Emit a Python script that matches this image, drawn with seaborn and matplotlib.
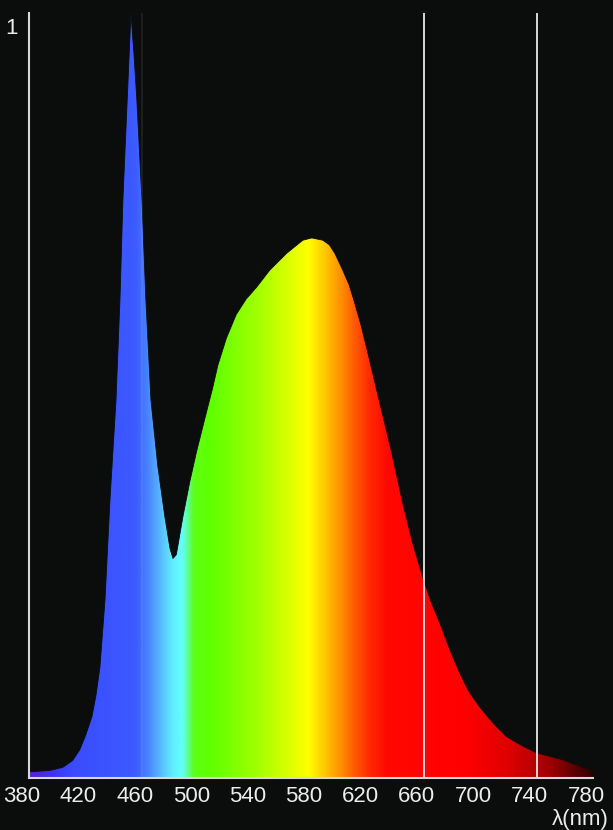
import numpy as np
import pandas as pd
import seaborn as sns
import matplotlib
matplotlib.use('Agg')
import matplotlib.pyplot as plt
import matplotlib.transforms as mtransforms
from matplotlib import font_manager
from matplotlib.colors import LinearSegmentedColormap

# spectrum (relative intensity, peak = 1)
wavelength = [380, 395, 404, 411, 416, 420, 424.6, 427.5, 430.3, 433.9, 437.4, 441.7, 444.5,
              446.6, 449.5, 452.3, 454.5, 456.5, 460.1, 462.9, 466.5, 471.4, 476.4, 480,
              482.1, 484.5, 489.1, 494, 499, 505, 510, 514, 520, 527, 534, 541.6, 550.8,
              562.8, 574.2, 580.6, 588.4, 593, 596.9, 602.5, 607, 611.0, 615.5, 620.3,
              628.8, 637.3, 645.1, 652, 659.2, 665, 671.3, 678, 685.5, 692, 699.6, 710,
              718.8, 730, 740.0, 750, 758.5, 770, 780]
intensity = [0.008, 0.010, 0.014, 0.023, 0.037, 0.055, 0.080, 0.108, 0.145, 0.233, 0.363,
             0.494, 0.625, 0.756, 0.880, 1.0, 0.945, 0.886, 0.756, 0.625, 0.494, 0.407,
             0.341, 0.300, 0.287, 0.292, 0.341, 0.387, 0.428, 0.472, 0.508, 0.540, 0.575,
             0.606, 0.626, 0.642, 0.664, 0.686, 0.703, 0.706, 0.703, 0.697, 0.686, 0.664,
             0.645, 0.621, 0.592, 0.556, 0.490, 0.425, 0.359, 0.308, 0.263, 0.231, 0.203,
             0.170, 0.137, 0.113, 0.093, 0.070, 0.054, 0.042, 0.033, 0.028, 0.024, 0.016,
             0.010]

# colour of each wavelength as seen in the fill
stop_nm = [380, 395, 410, 455, 465, 475, 482, 488, 492, 497, 510, 545, 570, 578, 588,
           598, 610, 622, 635, 690, 720, 750, 780]
stop_colors = ['#5a1fd8', '#4030f0', '#3a4cff', '#3c5aff', '#4a8aff', '#5cc8ff', '#60f0ff',
               '#60ffff', '#60ffa0', '#5cff10', '#60ff00', '#a8ff00', '#eaff00', '#ffff00',
               '#ffd000', '#ffa000', '#ff6000', '#ff2800', '#ff0800', '#ff0000', '#e00000',
               '#a00000', '#300000']

tick_nm = [380, 420, 460, 500, 540, 580, 620, 660, 700, 740, 780]
guide_nm = [660, 740]
faint_nm = [460]

bg = '#0b0c0c'
sns.set_style('dark', {'axes.facecolor': bg, 'figure.facecolor': bg})

# narrow face if there is one
have = {f.name for f in font_manager.fontManager.ttflist}
face = 'DejaVu Sans'
for cand in ['Liberation Sans Narrow', 'DejaVu Sans Condensed', 'Liberation Sans']:
    if cand in have:
        face = cand
        break
plt.rcParams['font.family'] = [face, 'DejaVu Sans']

fig = plt.figure(figsize=(6.13, 8.30), dpi=100)
ax = fig.add_axes([29/613, 52/830, 564/613, 765/830])

df = pd.DataFrame({'nm': wavelength, 'rel': intensity})

# fill shape, then paint a wavelength gradient clipped to it
poly = ax.fill_between(df['nm'], 0, df['rel'], color='none', lw=0)
pos = [(w - 380) / 400 for w in stop_nm]
cmap = LinearSegmentedColormap.from_list('spec', list(zip(pos, stop_colors)))
ramp = np.linspace(0, 1, 800).reshape(1, -1)
img = ax.imshow(ramp, cmap=cmap, extent=[380, 780, 0, 1], aspect='auto',
                origin='lower', zorder=1, interpolation='bilinear')
img.set_clip_path(poly.get_paths()[0], ax.transData)

sns.lineplot(data=df, x='nm', y='rel', color=bg, linewidth=0.6, ax=ax, zorder=2)

for w in guide_nm:
    ax.axvline(w, color='#d8d8d8', lw=1.4, zorder=3)
for w in faint_nm:
    ax.axvline(w, color='white', alpha=0.09, lw=1.2, zorder=3)

ax.set_xlim(380, 780)
ax.set_ylim(0, 1)
ax.set_xticks(tick_nm)
ax.set_xticklabels([str(t) for t in tick_nm])
ax.set_yticks([])
ax.set_xlabel('')
ax.set_ylabel('')
ax.grid(False)
ax.tick_params(axis='x', length=0, pad=6, labelsize=16, labelcolor='#ececec')
for s in ['top', 'right']:
    ax.spines[s].set_visible(False)
for s in ['left', 'bottom']:
    ax.spines[s].set_visible(True)
    ax.spines[s].set_color('#d8d8d8')
    ax.spines[s].set_linewidth(1.5)
    ax.spines[s].set_zorder(4)

shift = mtransforms.ScaledTranslation(-5/72, 0, fig.dpi_scale_trans)
for lab in ax.get_xticklabels():
    lab.set_transform(lab.get_transform() + shift)

fig.text(12/613, 1 - 28/830, '1', color='#ececec', fontsize=16, ha='center', va='center')
fig.text(609/613, 5/830, 'λ(nm)', color='#ececec', fontsize=16, ha='right', va='baseline')

fig.savefig('out.png', dpi=100, facecolor=bg)
